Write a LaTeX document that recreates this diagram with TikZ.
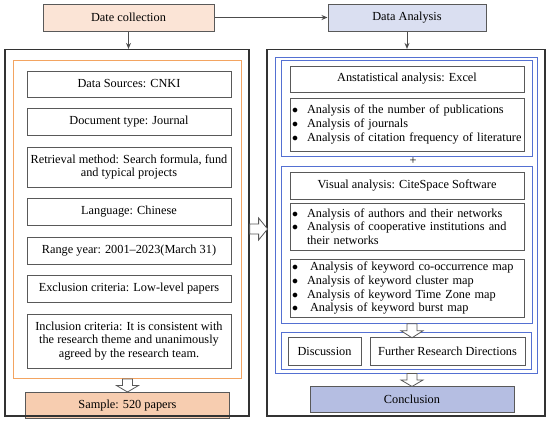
\documentclass[tikz,border=0pt]{standalone}
\usepackage{fontspec}
\setmainfont{Liberation Serif}
\usetikzlibrary{arrows.meta,positioning,fit}
\definecolor{peachlight}{HTML}{FBE4D6}
\definecolor{peach}{HTML}{F7CDB0}
\definecolor{lavlight}{HTML}{DADFF1}
\definecolor{lav}{HTML}{B5BEE2}
\definecolor{frameblue}{HTML}{5470D2}
\definecolor{frameorange}{HTML}{F3A461}
\definecolor{edgegray}{HTML}{595959}
\newcommand{\itm}{\makebox[15pt][l]{$\bullet$}}
% hollow block arrows: start point, shaft length, head length
\newcommand{\hollowdown}[3]{\draw[hollow] (#1) ++(-5,0) -- ++(0,#2) -- ++(-6,0) -- ++(11,#3) -- ++(11,-#3) -- ++(-6,0) -- ++(0,-#2) -- cycle;}
\newcommand{\hollowright}[3]{\draw[hollow] (#1) ++(0,-5) -- ++(#2,0) -- ++(0,-6) -- ++(#3,11) -- ++(-#3,11) -- ++(0,-6) -- ++(-#2,0) -- cycle;}

\begin{document}
\begin{tikzpicture}[
    x=1pt,y=-1pt,
    node distance=10.5pt and 8pt,
    every node/.style={font=\fontsize{12.3}{13.6}\selectfont},
    hdr/.style={draw=edgegray,line width=1pt,minimum height=27pt,inner sep=2pt},
    item/.style={draw=edgegray,line width=1pt,align=center,minimum width=204pt,minimum height=27pt,inner xsep=2pt},
    list/.style={draw=edgegray,line width=1pt,align=left,minimum width=234pt,text width=230pt,inner xsep=2pt},
    panel/.style={draw=black!80,line width=1.2pt,inner sep=0pt},
    orframe/.style={draw=frameorange,line width=1pt},
    blframe/.style={draw=frameblue,line width=1pt},
    arr/.style={-{Stealth[length=6pt,width=5pt]},line width=1pt,draw=black!70},
    hollow/.style={draw=edgegray,line width=0.8pt,fill=white,line join=miter}
]
\useasboundingbox (0,0) rectangle (550,421);
% headers
\node[hdr,fill=peachlight,minimum width=171pt] (collect) at (128.5,17.5) {Date collection};
\node[hdr,fill=lavlight,minimum width=158pt] (analysis) at (407,17.5) {Data Analysis};
% left panel
\node[item,minimum height=26pt] (src) at (129,84) {Data Sources: CNKI};
\node[item,below=of src] (doctype) {Document type: Journal};
\node[item,below=of doctype,minimum height=40pt] (retr) {Retrieval method: Search formula, fund\\and typical projects};
\node[item,below=of retr] (lang) {Language: Chinese};
\node[item,below=of lang] (range) {Range year: 2001--2023(March 31)};
\node[item,below=of range] (excl) {Exclusion criteria: Low-level papers};
\node[item,below=of excl,minimum height=54pt] (incl) {Inclusion criteria: It is consistent with\\the research theme and unanimously\\agreed by the research team.};
\node[orframe,fit=(src)(incl),inner xsep=11.5pt,inner ysep=10pt,xshift=-1.5pt] (crit) {};
\node[item,fill=peach,minimum height=26pt,below=13pt of crit] (sample) {Sample: 520 papers};
\node[panel,fit={(5,49.5)(249,416)}] (left) {};
% right panel
\node[item,minimum width=234pt,minimum height=26pt] (excel) at (407,79) {Anstatistical analysis: Excel};
\node[list,below=5pt of excel,minimum height=53pt] (list1) {\itm Analysis of the number of publications\\
\itm Analysis of journals\\
\itm Analysis of citation frequency of literature};
\node[blframe,fit=(excel)(list1),inner xsep=8pt,inner ysep=5pt] (grp1) {};
\node[below=0pt of grp1,xshift=6pt,inner sep=0pt] (plus) {+};
\node[item,minimum width=234pt] (cite) at (407,185.5) {Visual analysis: CiteSpace Software};
\node[list,below=3pt of cite,minimum height=47pt] (list2) {\itm Analysis of authors and their networks\\
\itm Analysis of cooperative institutions and\\
\hspace*{15pt}their networks};
\node[list,below=8pt of list2,minimum height=56pt] (list3) {\itm\hspace{3pt}Analysis of keyword co-occurrence map\\
\itm Analysis of keyword cluster map\\
\itm Analysis of keyword Time Zone map\\
\itm\hspace{3pt}Analysis of keyword burst map};
\node[blframe,fit=(cite)(list3),inner xsep=8pt,inner ysep=5pt] (grp2) {};
\node[item,minimum width=73pt,minimum height=28pt] (disc) at (324.5,351) {Discussion};
\node[item,minimum width=155pt,minimum height=28pt,right=8pt of disc] (further) {Further Research Directions};
\node[blframe,fit=(disc)(further),inner xsep=6pt,inner ysep=4pt] (grp3) {};
\node[blframe,fit={(275,57)(537,373)},inner sep=0pt] (allblue) {};
\node[item,fill=lav,minimum height=26pt] (concl) at (412,399) {Conclusion};
\node[panel,fit={(267,49.5)(545,416)}] (right) {};
% connectors
\draw[arr] (collect) -- (analysis);
\draw[arr] (collect.south) -- (collect.south |- left.north);
\draw[arr] (analysis.south) -- (analysis.south |- right.north);
\coordinate (d1) at (sample.north |- crit.south);
\coordinate (d2) at (concl.north |- grp2.south);
\coordinate (d3) at (concl.north |- allblue.south);
\coordinate (a1) at (left.east |- 0,229);
\hollowdown{d1}{6.5}{6.5}
\hollowdown{d2}{7}{7}
\hollowdown{d3}{6.5}{6.5}
\hollowright{a1}{9}{9}
\end{tikzpicture}
\end{document}
